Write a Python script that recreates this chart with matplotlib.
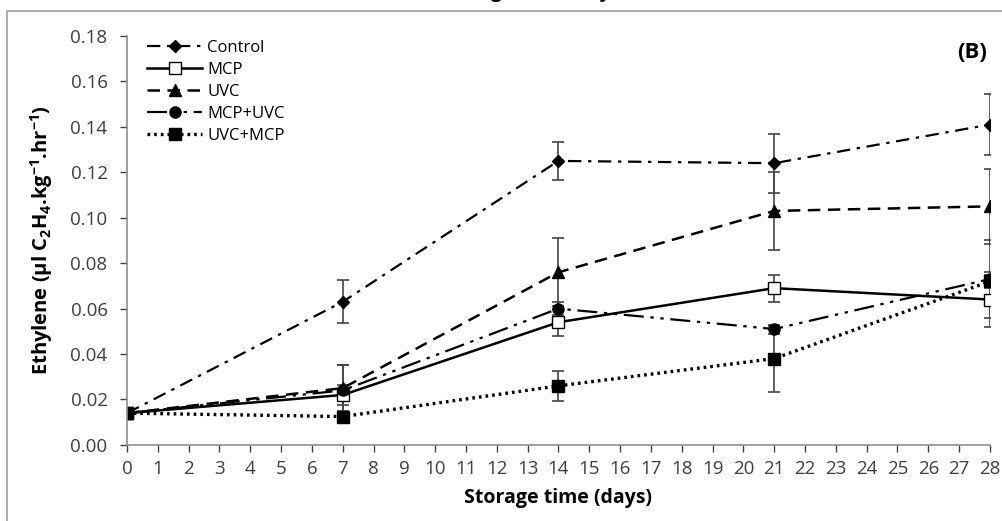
import matplotlib.pyplot as plt
from matplotlib.lines import Line2D
from matplotlib.patches import Rectangle

plt.rcParams["font.family"] = ["Open Sans", "DejaVu Sans"]
plt.rcParams["mathtext.fontset"] = "custom"
plt.rcParams["mathtext.rm"] = "Open Sans:bold"
plt.rcParams["mathtext.default"] = "rm"

days = [0, 7, 14, 21, 28]

control = [0.014, 0.063, 0.125, 0.124, 0.141]
control_err = [0.0, 0.0095, 0.0085, 0.0130, 0.0135]
mcp = [0.014, 0.022, 0.054, 0.069, 0.064]
mcp_err = [0.0, 0.0045, 0.0060, 0.0060, 0.0120]
uvc = [0.014, 0.025, 0.076, 0.103, 0.105]
uvc_err = [0.0, 0.0100, 0.0150, 0.0170, 0.0165]
mcp_uvc = [0.014, 0.024, 0.060, 0.051, 0.073]
mcp_uvc_err = [0.0, 0.0110, 0.0030, 0.0020, 0.0170]
uvc_mcp = [0.014, 0.0125, 0.026, 0.038, 0.072]
uvc_mcp_err = [0.0, 0.0010, 0.0065, 0.0145, 0.0030]

x_ticks = list(range(0, 29))
y_ticks = [0.00, 0.02, 0.04, 0.06, 0.08, 0.10, 0.12, 0.14, 0.16, 0.18]

fig = plt.figure(figsize=(10.03, 5.21), dpi=100)
ax = fig.add_axes([0.1266, 0.146, 0.8604, 0.785])

series = [
    ("Control", control, control_err, dict(ls=(0, (6, 3, 1.5, 3)), lw=1.6, marker="D", ms=6, mfc="black")),
    ("MCP", mcp, mcp_err, dict(ls="-", lw=1.8, marker="s", ms=9, mfc="white")),
    ("UVC", uvc, uvc_err, dict(ls=(0, (5, 3)), lw=1.8, marker="^", ms=8, mfc="black")),
    ("MCP+UVC", mcp_uvc, mcp_uvc_err, dict(ls=(0, (9, 3, 1.5, 3, 1.5, 3)), lw=1.6, marker="o", ms=8, mfc="black")),
    ("UVC+MCP", uvc_mcp, uvc_mcp_err, dict(ls=(0, (0.8, 1.2)), lw=2.4, marker="s", ms=9, mfc="black")),
]

handles = []
for name, y, err, style in series:
    ax.errorbar(days, y, yerr=err, color="black", mec="black",
                ecolor="#444444", elinewidth=1.2, capsize=4, capthick=1.2,
                **style)
    handles.append(Line2D([], [], color="black", mec="black", label=name, **style))

ax.set_xlim(0, 28)
ax.set_ylim(0, 0.18)
ax.set_xticks(x_ticks)
ax.set_yticks(y_ticks)
ax.set_yticklabels([f"{v:.2f}" for v in y_ticks])
ax.tick_params(axis="both", labelsize=13.5, colors="#404040", length=5, width=1, direction="out")
ax.tick_params(axis="x", pad=6)
ax.tick_params(axis="y", pad=9)
for side in ["top", "right"]:
    ax.spines[side].set_visible(False)
for side in ["left", "bottom"]:
    ax.spines[side].set_color("#909090")
    ax.spines[side].set_linewidth(1.2)

ax.set_xlabel("Storage time (days)", fontsize=14, fontweight="bold", labelpad=7)
ax.set_ylabel(r"Ethylene (µl C$_2$H$_4$.kg$^{-1}$.hr$^{-1}$)", fontsize=14.5,
              fontweight="bold", labelpad=11)

ax.text(0.997, 0.985, "(B)", transform=ax.transAxes, ha="right", va="top",
        fontsize=16, fontweight="bold")

ax.legend(handles=handles, loc="upper left", bbox_to_anchor=(0.012, 1.015), frameon=False,
          fontsize=12, handlelength=3.3, labelspacing=0.36, handletextpad=0.3,
          borderaxespad=0.2)

# cropped title from the panel above and the frame around the chart
fig.text(0.531, 1.016, "Storage time (days)", ha="center", va="center",
         fontsize=14, fontweight="bold")
fig.add_artist(Rectangle((7 / 1003, -0.1), 1.1, 1.1 - 11 / 521, transform=fig.transFigure,
                         fill=False, edgecolor="#a0a0a0", lw=1.2))

fig.savefig("out.png", dpi=100)
